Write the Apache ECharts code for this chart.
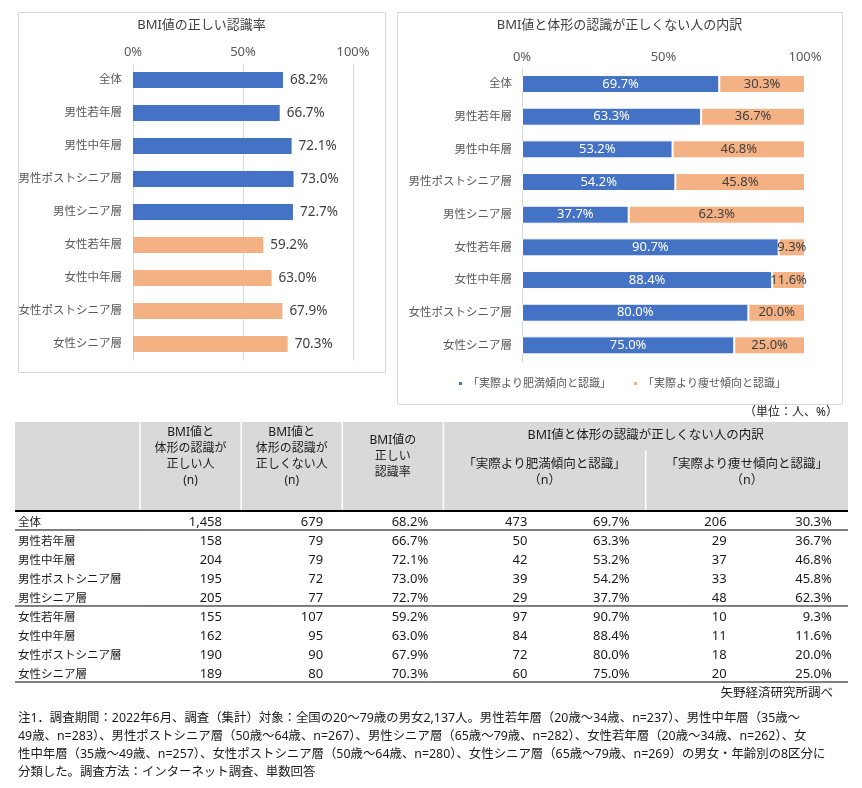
<!DOCTYPE html>
<html><head><meta charset="utf-8">
<script src="https://cdn.jsdelivr.net/npm/echarts@6/dist/echarts.min.js"></script>
<style>html,body{margin:0;padding:0;background:#fff}#c{width:862px;height:788px}</style>
</head><body><div id="c"></div>
<script>
// ---- data ----
const categories = ['全体','男性若年層','男性中年層','男性ポストシニア層','男性シニア層','女性若年層','女性中年層','女性ポストシニア層','女性シニア層'];
const correctRate = [68.2,66.7,72.1,73.0,72.7,59.2,63.0,67.9,70.3];
const obesePct = [69.7,63.3,53.2,54.2,37.7,90.7,88.4,80.0,75.0];
const thinPct = [30.3,36.7,46.8,45.8,62.3,9.3,11.6,20.0,25.0];
const correctN = [1458,158,204,195,205,155,162,190,189];
const incorrectN = [679,79,79,72,77,107,95,90,80];
const obeseN = [473,50,42,39,29,97,84,72,60];
const thinN = [206,29,37,33,48,10,11,18,20];
const axisTicks = [0,50,100];
const tickLabels = ['0%','50%','100%'];
const legendNames = ['「実際より肥満傾向と認識」','「実際より痩せ傾向と認識」'];
const maleGroupCount = 5; // 全体 + 男性4区分 are blue
const leftTitle = 'BMI値の正しい認識率';
const rightTitle = 'BMI値と体形の認識が正しくない人の内訳';
const headerCols = ['BMI値と\n体形の認識が\n正しい人\n(n)','BMI値と\n体形の認識が\n正しくない人\n(n)','BMI値の\n正しい\n認識率'];
const headerGroup = 'BMI値と体形の認識が正しくない人の内訳';
const headerSub = ['「実際より肥満傾向と認識」\n（n）','「実際より痩せ傾向と認識」\n（n）'];
const unitText = '（単位：人、%）';
const sourceText = '矢野経済研究所調べ';
const noteLines = [
  '注1．調査期間：2022年6月、調査（集計）対象：全国の20～79歳の男女2,137人。男性若年層（20歳～34歳、n=237）、男性中年層（35歳～',
  '49歳、n=283）、男性ポストシニア層（50歳～64歳、n=267）、男性シニア層（65歳～79歳、n=282）、女性若年層（20歳～34歳、n=262）、女',
  '性中年層（35歳～49歳、n=257）、女性ポストシニア層（50歳～64歳、n=280）、女性シニア層（65歳～79歳、n=269）の男女・年齢別の8区分に',
  '分類した。調査方法：インターネット調査、単数回答'
];

// ---- style ----
const FONT = "'Noto Sans', 'Noto Sans CJK JP', sans-serif";
const BLUE = '#4472C4', ORANGE = '#F4B183';
const GRAY = '#595959', DARK = '#404040', INK = '#1a1a1a';
const pct = v => v.toFixed(1) + '%';
const tickFmt = v => { const i = axisTicks.indexOf(v); return i >= 0 ? tickLabels[i] : ''; };

// table geometry in axis units
const TX_MIN = -1.236, TX_MAX = 7, TY_MIN = -4.684, TY_MAX = 9;
const colPad = [0.19,0.19,0.15,0.17,0.16,0.20,0.16];

function renderTableRow(params, api) {
  const r = api.value(1);
  const P = (x, y) => api.coord([x, y]);
  const els = [];
  const txt = (x, y, text, align, size, lh) => {
    const p = P(x, y);
    return {type:'text', x:p[0], y:p[1], style:{text, fontSize:size, fontFamily:FONT, fill:INK,
      align, textAlign:align, verticalAlign:'middle', textVerticalAlign:'middle', lineHeight:lh}};
  };
  const hline = (y, w) => { const a = P(TX_MIN, y), b = P(TX_MAX, y);
    return {type:'line', shape:{x1:a[0], y1:a[1], x2:b[0], y2:b[1]}, style:{stroke:'#000', lineWidth:w}}; };
  const vline = (x, y1, y2, w) => { const a = P(x, y1), b = P(x, y2);
    return {type:'line', shape:{x1:a[0], y1:a[1], x2:b[0], y2:b[1]}, style:{stroke:'#fff', lineWidth:w}}; };

  if (r === 0) {
    const a = P(TX_MIN, TY_MIN), b = P(TX_MAX, 0);
    els.push({type:'rect', shape:{x:a[0], y:a[1], width:b[0]-a[0], height:b[1]-a[1]}, style:{fill:'#D9D9D9'}});
    [0,1,2,3].forEach(x => els.push(vline(x, TY_MIN, 0, 1.5)));
    els.push(vline(5, -3.2, 0, 1.5));
    headerCols.forEach((t, i) => els.push(txt(i + 0.5, -2.89, t, 'center', 12, 16)));
    els.push(txt(5, -4.0, headerGroup, 'center', 12.5, 16));
    els.push(txt(4, -2.03, headerSub[0], 'center', 12.5, 15.5));
    els.push(txt(6, -2.03, headerSub[1], 'center', 12.5, 15.5));
    els.push(hline(0, 2));
    els.push(hline(1, 1));
    els.push(hline(5, 1));
    els.push(hline(9, 1));
  }
  const y = r + 0.6;
  els.push(txt(TX_MIN + 0.03, y, categories[r], 'left', 11.5));
  const vals = [correctN[r].toLocaleString('en-US'), String(incorrectN[r]), pct(correctRate[r]),
                String(obeseN[r]), pct(obesePct[r]), String(thinN[r]), pct(thinPct[r])];
  vals.forEach((v, k) => els.push(txt(k + 1 - colPad[k], y, v, 'right', 13)));
  return {type:'group', children: els};
}

function gtext(x, y, text, size, align, color) {
  return {type:'text', x, y, z:10, style:{text, fontSize:size, fontFamily:FONT, fill:color || INK,
    align, textAlign:align, verticalAlign:'middle', textVerticalAlign:'middle'}};
}

const chart = echarts.init(document.getElementById('c'));
const option = {
  animation: false,
  backgroundColor: '#fff',
  textStyle: {fontFamily: FONT},
  legend: {
    data: legendNames, left: 457, top: 378, padding: 0, itemWidth: 5, itemHeight: 5, itemGap: 21,
    icon: 'rect', textStyle: {fontSize: 11, color: GRAY}
  },
  grid: [
    {left: 133, top: 63.5, width: 220, height: 297},
    {left: 522, top: 67.7, width: 283, height: 294},
    {left: 15, top: 422, width: 833, height: 260}
  ],
  xAxis: [
    {gridIndex:0, type:'value', position:'top', min:0, max:100, interval:50,
     axisLine:{show:false}, axisTick:{show:false},
     splitLine:{show:true, lineStyle:{color:'#D9D9D9'}},
     axisLabel:{formatter:tickFmt, fontSize:13, color:GRAY, margin:5}},
    {gridIndex:1, type:'value', position:'top', min:0, max:100, interval:50,
     axisLine:{show:false}, axisTick:{show:false}, splitLine:{show:false},
     axisLabel:{formatter:tickFmt, fontSize:13, color:GRAY, margin:4}},
    {gridIndex:2, type:'value', min:TX_MIN, max:TX_MAX, show:false}
  ],
  yAxis: [
    {gridIndex:0, type:'category', data:categories, inverse:true,
     axisLine:{show:false}, axisTick:{show:false},
     axisLabel:{fontSize:11.5, color:GRAY, margin:11}},
    {gridIndex:1, type:'category', data:categories, inverse:true,
     axisLine:{show:true, lineStyle:{color:'#D9D9D9'}}, axisTick:{show:false},
     axisLabel:{fontSize:11.5, color:GRAY, margin:10}},
    {gridIndex:2, type:'value', min:TY_MIN, max:TY_MAX, inverse:true, show:false}
  ],
  series: [
    {type:'bar', xAxisIndex:0, yAxisIndex:0, barWidth:16,
     data: correctRate.map((v, i) => ({value:v, itemStyle:{color: i < maleGroupCount ? BLUE : ORANGE}})),
     label:{show:true, position:'right', distance:7, fontSize:13.5, color:DARK, formatter:p => pct(p.value)}},
    {type:'bar', name:legendNames[0], xAxisIndex:1, yAxisIndex:1, stack:'s', barWidth:18, data:obesePct,
     itemStyle:{color:BLUE, borderColor:'#fff', borderWidth:1},
     label:{show:true, position:'inside', fontSize:13, color:'#fff', formatter:p => pct(p.value)}},
    {type:'bar', name:legendNames[1], xAxisIndex:1, yAxisIndex:1, stack:'s', barWidth:18, data:thinPct,
     itemStyle:{color:ORANGE, borderColor:'#fff', borderWidth:1},
     label:{show:true, position:'inside', fontSize:13, color:DARK, formatter:p => pct(p.value)}},
    {type:'custom', xAxisIndex:2, yAxisIndex:2, clip:false, silent:true,
     data: categories.map((c, i) => [0, i]), encode:{x:0, y:1}, renderItem: renderTableRow}
  ],
  graphic: [
    {type:'rect', shape:{x:18.5, y:12.5, width:367, height:360}, style:{fill:'none', stroke:'#D9D9D9', lineWidth:1}, z:-1},
    {type:'rect', shape:{x:397.5, y:12.5, width:445, height:392}, style:{fill:'none', stroke:'#D9D9D9', lineWidth:1}, z:-1},
    gtext(201.5, 25, leftTitle, 13, 'center', DARK),
    gtext(619.5, 25, rightTitle, 13, 'center', DARK),
    gtext(838, 413, unitText, 12, 'right'),
    gtext(833, 693, sourceText, 12.5, 'right'),
    ...noteLines.map((t, i) => gtext(18, 718 + i * 18, t, 12.4, 'left'))
  ]
};
chart.setOption(option);
</script>
</body></html>
